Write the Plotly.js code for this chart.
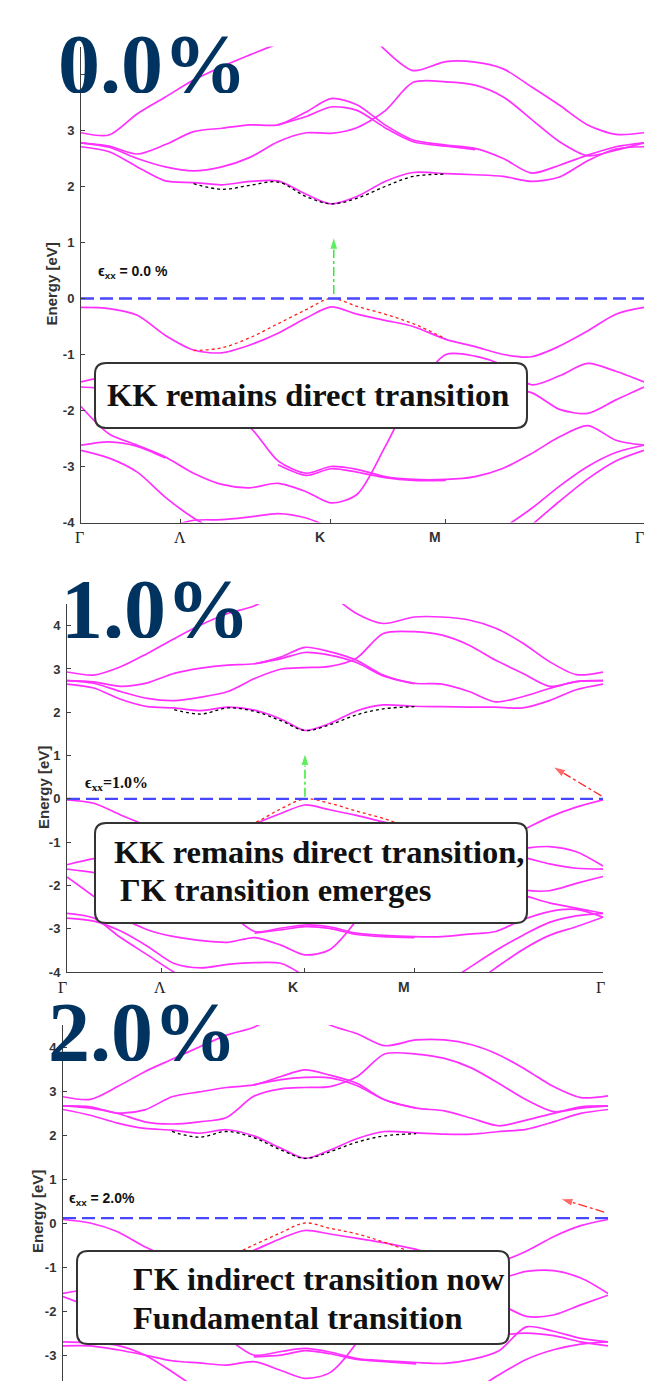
<!DOCTYPE html>
<html><head><meta charset="utf-8">
<script src="https://cdn.plot.ly/plotly-3.0.1.min.js"></script>
<style>html,body{margin:0;padding:0;background:#fff;} #chart{width:645px;height:1381px;}</style>
</head><body><div id="chart"></div>
<script>
const _ = null;
// k-path coordinate (fraction of path Γ→Λ→K→M→Γ)
const kGrid = [0,0.05,0.1,0.15,0.2,0.25,0.3,0.35,0.4,0.444,0.49,0.54,0.59,0.648,0.7,0.75,0.8,0.85,0.9,0.95,1];
const kTickVals = [0.177, 0.444, 0.648, 1];
const kTickText = ['Γ','Λ','K','M','Γ'];
const panelTitles = ['0.0%','1.0%','2.0%'];
const strainLabels = ['ϵ<sub>xx</sub> = 0.0 %','ϵ<sub>xx</sub>=1.0%','ϵ<sub>xx</sub> = 2.0%'];
const boxTexts = [['KK remains direct transition'],['KK remains direct transition,','ΓK transition emerges'],['ΓK indirect transition now','Fundamental transition']];
const fermiLevels = [0, 0, 0.11];

// ---------- Panel 1 (0.0 %) ----------
const p1C1 = [2.71,2.62,2.35,2.10,2.07,2.03,2.09,2.10,1.86,1.69,1.82,2.09,2.25,2.23,2.21,2.18,2.09,2.17,2.46,2.67,2.71];
const p1A  = [2.96,2.92,3.30,3.60,3.90,4.14,4.35,4.55,_,_,_,_,_,_,_,_,_,_,_,_,_];
const p1B  = [_,_,_,_,_,_,_,_,_,_,5.00,4.44,4.07,4.23,4.22,4.10,3.78,3.45,3.10,2.93,2.96];
const p1C  = [2.78,2.70,2.50,2.35,2.28,2.35,2.52,2.80,2.96,2.95,3.05,3.35,3.86,3.87,3.81,3.60,3.20,2.80,2.55,2.65,2.78];
const p1F  = [2.78,2.72,2.58,2.75,2.98,3.04,3.10,3.10,3.33,3.57,3.46,3.10,2.83,2.74,2.68,2.50,2.24,2.38,2.56,2.71,2.78];
const p1Fb = [_,_,_,_,_,_,_,3.10,3.25,3.42,3.36,3.05,2.80,2.72,2.66,_,_,_,_,_,_];
const p1Dot= [_,_,_,_,2.05,1.95,2.02,2.08,1.82,1.69,1.79,2.00,2.18,2.22,_,_,_,_,_,_,_];
const p1V1 = [-0.16,-0.18,-0.30,-0.66,-0.92,-0.97,-0.83,-0.62,-0.35,-0.15,-0.28,-0.39,-0.50,-0.73,-0.86,-1.00,-1.04,-0.85,-0.58,-0.28,-0.16];
const p1Red= [_,_,_,_,-0.93,-0.88,-0.70,-0.45,-0.20,0.00,-0.14,-0.28,-0.45,-0.72,_,_,_,_,_,_,_];
const p1V2 = [-1.49,-1.40,-1.50,-1.70,-1.90,-2.05,-2.30,-2.90,-3.12,-3.00,-3.05,-3.18,-3.23,-3.23,-3.18,-3.03,-2.77,-2.47,-2.27,-2.53,-2.62];
const p1V2b= [_,_,_,_,_,_,_,-2.97,-3.16,-3.04,-3.10,-3.20,-3.25,-3.25,_,_,_,_,_,_,_];
const p1V3 = [-1.58,-1.62,-1.75,-1.90,-2.00,-2.05,-2.10,-2.10,-2.10,-2.10,-2.00,-1.90,-1.80,-1.70,-1.65,-1.62,-1.68,-1.98,-2.05,-1.81,-1.58];
const p1V4 = [-1.93,-2.42,-2.62,-2.83,-3.12,-3.32,-3.38,-3.30,-3.45,-3.65,-3.50,-2.65,-1.70,-1.00,-1.03,-1.20,-1.54,-1.38,-1.16,-1.30,-1.49];
const p1V5 = [-2.62,-2.56,-2.64,-2.85,_,_,_,_,_,_,_,_,_,_,_,_,_,_,_,_,_];
const p1V6 = [-2.71,-2.85,-3.10,-3.55,-3.92,-4.20,_,_,_,_,_,_,_,_,_,_,_,_,_,_,_];
const p1V7 = [_,_,_,-4.10,-3.96,-3.95,-3.90,-3.84,-3.92,-4.10,_,_,_,_,_,_,_,_,_,_,_];
const p1V8 = [_,_,_,_,_,_,_,_,_,_,_,_,_,_,_,-4.10,-3.75,-3.35,-3.00,-2.75,-2.62];
const p1V9 = [_,_,_,_,_,_,_,_,_,_,_,_,_,_,_,_,-4.05,-3.62,-3.22,-2.90,-2.71];

// ---------- Panel 2 (1.0 %) ----------
const p2C1 = [2.65,2.56,2.30,2.13,2.10,2.04,2.12,2.05,1.84,1.58,1.74,2.03,2.17,2.14,2.13,2.12,2.12,2.10,2.27,2.52,2.65];
const p2A  = [2.93,2.86,3.05,3.36,3.70,4.02,4.28,4.46,4.85,_,_,_,_,_,_,_,_,_,_,_,_];
const p2B  = [_,_,_,_,_,_,_,_,_,_,4.75,4.28,4.05,4.20,4.20,4.13,3.94,3.60,3.17,2.87,2.93];
const p2C  = [2.73,2.67,2.48,2.32,2.27,2.35,2.48,2.78,3.00,3.03,3.06,3.25,3.82,3.86,3.78,3.55,3.20,2.90,2.60,2.71,2.73];
const p2F  = [2.73,2.70,2.60,2.68,2.90,3.02,3.09,3.12,3.28,3.50,3.40,3.20,2.86,2.67,2.65,2.48,2.24,2.36,2.55,2.71,2.73];
const p2Fb = [_,_,_,_,_,_,_,3.12,3.24,3.38,3.32,3.15,2.84,2.66,_,_,_,_,_,_,_];
const p2Dot= [_,_,_,_,2.06,1.96,2.10,2.02,1.80,1.58,1.71,1.94,2.08,2.13,_,_,_,_,_,_,_];
const p2V1 = [-0.02,-0.10,-0.37,-0.62,-0.85,-0.95,-0.88,-0.58,-0.33,-0.14,-0.25,-0.38,-0.53,-0.70,-0.85,-0.98,-1.00,-0.72,-0.42,-0.19,-0.02];
const p2Red= [_,_,_,_,-0.93,-0.88,-0.72,-0.55,-0.22,0.00,-0.10,-0.28,-0.45,-0.70,_,_,_,_,_,_,_];
const p2V2 = [-1.52,-1.38,-1.30,-1.40,-1.70,-2.10,-2.60,-3.06,-2.98,-2.91,-2.95,-3.10,-3.15,-3.18,-3.18,-3.12,-3.06,-2.79,-2.60,-2.55,-2.73];
const p2V2b= [_,_,_,_,_,_,_,-3.10,-3.02,-2.95,-2.99,-3.13,-3.18,-3.20,_,_,_,_,_,_,_];
const p2V3 = [-1.62,-1.70,-1.80,-1.90,-2.00,-2.10,-2.20,-2.30,-2.30,-2.30,-2.20,-2.00,-1.80,-1.60,-1.45,-1.35,-1.30,-1.35,-1.50,-1.60,-1.62];
const p2V4 = [-1.80,-2.25,-2.72,-3.02,-3.18,-3.27,-3.31,-3.20,-3.38,-3.60,-3.48,-2.80,-1.80,-1.10,-1.05,-1.10,-1.18,-1.14,-1.10,-1.22,-1.55];
const p2V5 = [-2.64,-2.75,-3.20,-3.60,-4.00,-4.30,_,_,_,_,_,_,_,_,_,_,_,_,_,_,_];
const p2V6 = [-2.75,-2.82,-3.05,-3.40,-3.80,-3.90,-3.82,-3.78,-3.80,-4.10,_,_,_,_,_,_,_,_,_,_,_];
const p2V7 = [_,_,_,_,_,_,_,_,_,_,_,_,_,_,-4.30,-3.90,-3.50,-3.15,-2.85,-2.70,-2.64];
const p2V8 = [_,_,_,_,_,_,_,_,_,_,_,_,_,_,_,-4.35,-3.90,-3.48,-3.15,-2.95,-2.73];
const p2V9 = [_,_,_,_,_,_,_,_,_,_,_,_,_,_,_,_,-2.10,-2.22,-2.40,-2.52,-2.64];
const p2V10= [_,_,_,_,_,_,_,_,_,_,_,_,_,_,_,_,-1.95,-2.10,-2.12,-1.95,-1.79];

// ---------- Panel 3 (2.0 %) ----------
const p3C1 = [2.58,2.45,2.27,2.15,2.11,2.04,2.12,1.98,1.70,1.47,1.66,1.92,2.08,2.05,2.02,2.02,2.08,2.13,2.30,2.49,2.58];
const p3A  = [2.87,2.81,3.10,3.44,3.72,4.00,4.27,4.45,4.80,_,_,_,_,_,_,_,_,_,_,_,_];
const p3B  = [_,_,_,_,_,_,_,_,_,4.85,4.50,4.30,4.03,4.16,4.16,4.05,3.82,3.48,3.10,2.85,2.89];
const p3C  = [2.66,2.61,2.49,2.30,2.25,2.30,2.40,2.88,3.05,3.08,3.10,3.33,3.84,3.84,3.74,3.52,3.17,2.80,2.53,2.61,2.66];
const p3F  = [2.66,2.64,2.50,2.57,2.87,2.98,3.08,3.14,3.33,3.48,3.36,3.17,2.80,2.61,2.55,2.38,2.21,2.34,2.49,2.64,2.66];
const p3Fb = [_,_,_,_,_,_,_,3.14,3.26,3.31,3.30,3.12,2.80,2.61,_,_,_,_,_,_,_];
const p3Dot= [_,_,_,_,2.08,1.95,2.08,1.94,1.66,1.47,1.62,1.84,1.98,2.03,_,_,_,_,_,_,_];
const p3V1 = [0.08,0.00,-0.20,-0.54,-0.80,-0.95,-0.85,-0.62,-0.35,-0.17,-0.25,-0.35,-0.45,-0.60,-0.80,-0.92,-0.88,-0.64,-0.31,-0.06,0.08];
const p3Red= [_,_,_,_,_,_,-0.80,-0.50,-0.22,0.00,-0.12,-0.25,-0.44,-0.70,_,_,_,_,_,_,_];
const p3V2 = [-1.60,-1.50,-1.45,-1.50,-1.70,-2.10,-2.60,-3.00,-2.92,-2.85,-2.93,-3.08,-3.13,-3.17,-3.19,-3.10,-2.90,-2.36,-2.46,-2.62,-2.70];
const p3V2b= [_,_,_,_,_,_,_,-3.04,-3.00,-2.90,-2.97,-3.10,-3.15,-3.20,_,_,_,_,_,_,_];
const p3V3 = [-1.67,-1.90,-2.10,-2.20,-2.30,-2.30,-2.30,-2.20,-2.20,-2.20,-2.20,-2.10,-2.00,-1.90,-1.85,-1.80,-1.85,-2.12,-2.09,-1.86,-1.64];
const p3V4 = [-2.79,-2.79,-2.88,-3.00,-3.13,-3.18,-3.23,-3.15,-3.35,-3.53,-3.40,-2.70,-1.60,-1.05,-1.02,-1.10,-1.25,-1.10,-1.08,-1.25,-1.60];
const p3V5 = [-2.70,-2.72,-2.78,-3.00,-3.38,-3.80,_,_,_,_,_,_,_,_,_,_,_,_,_,_,_];
const p3V6 = [_,_,_,_,_,_,_,_,_,_,_,_,_,_,_,_,-2.55,-2.50,-2.56,-2.70,-2.79];
const p3V7 = [_,_,_,_,_,_,_,_,_,_,_,_,_,_,_,-3.85,-3.45,-3.10,-2.88,-2.75,-2.70];

// arrows (k, energy) start -> tip
const greenArrowK = [[0.449,0.449],[0.444,0.444]];
const greenArrowE = [[0.08,1.10],[0.05,1.06]];
const redArrowK = [[0.997,0.907],[0.993,0.913]];
const redArrowE = [[0.07,0.74],[0.25,0.55]];

const W = 645, H = 1381;
const px = v => v / W, py = v => 1 - v / H;

const panels = [
  {xa:'x', ya:'y', bands:[p1C1,p1A,p1B,p1C,p1F,p1Fb,p1V1,p1V2,p1V2b,p1V3,p1V4,p1V5,p1V6,p1V7,p1V8,p1V9], dot:p1Dot, red:p1Red},
  {xa:'x2', ya:'y2', bands:[p2C1,p2A,p2B,p2C,p2F,p2Fb,p2V1,p2V2,p2V2b,p2V3,p2V4,p2V5,p2V6,p2V7,p2V8,p2V9,p2V10], dot:p2Dot, red:p2Red},
  {xa:'x3', ya:'y3', bands:[p3C1,p3A,p3B,p3C,p3F,p3Fb,p3V1,p3V2,p3V2b,p3V3,p3V4,p3V5,p3V6,p3V7], dot:p3Dot, red:p3Red}
];

const traces = [];
const band = {color:'#ff30ff', width:1.7, shape:'spline', smoothing:0.8};
panels.forEach((p, i) => {
  p.bands.forEach(b => traces.push({x:kGrid, y:b, xaxis:p.xa, yaxis:p.ya, mode:'lines', line:band, connectgaps:false, hoverinfo:'skip'}));
  traces.push({x:kGrid, y:p.dot, xaxis:p.xa, yaxis:p.ya, mode:'lines', line:{color:'#000', width:1.3, dash:'dot', shape:'spline'}, hoverinfo:'skip'});
  traces.push({x:kGrid, y:p.red, xaxis:p.xa, yaxis:p.ya, mode:'lines', line:{color:'#ff2020', width:1.3, dash:'dot', shape:'spline'}, hoverinfo:'skip'});
  traces.push({x:[0,1], y:[fermiLevels[i], fermiLevels[i]], xaxis:p.xa, yaxis:p.ya, mode:'lines', line:{color:'#4747ff', width:2.3, dash:'13px,6px'}, hoverinfo:'skip'});
});
function arrow(xa, ya, ks, es, color) {
  traces.push({x:ks, y:es, xaxis:xa, yaxis:ya, mode:'lines+markers', cliponaxis:false,
    line:{color:color, width:1.3, dash:'dashdot'},
    marker:{symbol:'arrow', angleref:'previous', size:[0,13], color:color}, hoverinfo:'skip'});
}
arrow('x','y', greenArrowK[0], greenArrowE[0], '#19e619');
arrow('x2','y2', greenArrowK[1], greenArrowE[1], '#19e619');
arrow('x2','y2', redArrowK[0], redArrowE[0], '#ff2a2a');
arrow('x3','y3', redArrowK[1], redArrowE[1], '#ff2a2a');

const tickFont = {family:'Liberation Sans, Arial, sans-serif', size:13, color:'#333', weight:'bold'};
function xax(d0, d1, anchor, show) {
  return {domain:[px(d0), px(d1)], anchor:anchor, range:[0,1], showgrid:false, zeroline:false,
    showline:show, linecolor:'#404040', linewidth:1, ticks: show ? 'inside' : '', ticklen:4, tickcolor:'#404040',
    tickvals:kTickVals, showticklabels:false, fixedrange:true};
}
function yax(top, bottom, r0, anchor, hideTop) {
  const vals = [-4,-3,-2,-1,0,1,2,3,4].filter(v => v >= r0 - 1e-9);
  return {domain:[py(bottom), py(top)], anchor:anchor, range:[r0, 4.5], showgrid:false, zeroline:false,
    showline:true, linecolor:'#404040', linewidth:1, ticks:'inside', ticklen:4, tickcolor:'#404040',
    tickvals:vals, ticktext:vals.map(v => (hideTop && v === 4) ? ' ' : String(v)), tickfont:tickFont, ticklabelstandoff:3, fixedrange:true};
}

const annotations = [];
const shapes = [];
// big strain labels
[[56,64],[59,609],[46,1032]].forEach((pos, i) => annotations.push({xref:'paper', yref:'paper', x:px(pos[0]), y:py(pos[1]),
  xanchor:'left', yanchor:'middle', valign:'middle', showarrow:false, text:panelTitles[i], height:58,
  font:{family:'Liberation Serif, Times New Roman, serif', size:84, color:'#00335f', weight:'bold'}}));
// y axis titles
[[51,284.5],[43,788],[37,1212]].forEach(pos => annotations.push({xref:'paper', yref:'paper', x:px(pos[0]), y:py(pos[1]),
  xanchor:'center', yanchor:'middle', showarrow:false, text:'Energy [eV]', textangle:-90,
  font:{family:'Liberation Sans, Arial, sans-serif', size:15, color:'#333', weight:'bold'}}));
// x tick labels
const xLabelPos = [[[79,180,320,435,639],537],[[62,160,293,404,600],987]];
xLabelPos.forEach(row => row[0].forEach((xv, j) => {
  const serif = (kTickText[j] === 'Γ' || kTickText[j] === 'Λ');
  annotations.push({xref:'paper', yref:'paper', x:px(xv), y:py(row[1]), xanchor:'center', yanchor:'middle', showarrow:false,
    text:kTickText[j], font: serif ? {family:'Liberation Serif, serif', size:16, color:'#222'} : {family:'Liberation Sans, Arial, sans-serif', size:14, color:'#333', weight:'bold'}});
}));
// strain small labels
const strainPos = [[96,272,'Liberation Sans, Arial, sans-serif',14],[83,783,'Liberation Serif, serif',16],[67,1199,'Liberation Sans, Arial, sans-serif',14]];
strainPos.forEach((s, i) => annotations.push({xref:'paper', yref:'paper', x:px(s[0]), y:py(s[1]), xanchor:'left', yanchor:'middle', showarrow:false,
  text:strainLabels[i], font:{family:s[2], size:s[3], color:'#111', weight:'bold'}}));
// rounded boxes
function roundRect(x0, y0, x1, y1, r) {
  const P = (x, y) => px(x).toFixed(5) + ',' + py(y).toFixed(5);
  return 'M' + P(x0 + r, y0) + ' L' + P(x1 - r, y0) + ' Q' + P(x1, y0) + ' ' + P(x1, y0 + r) +
    ' L' + P(x1, y1 - r) + ' Q' + P(x1, y1) + ' ' + P(x1 - r, y1) + ' L' + P(x0 + r, y1) +
    ' Q' + P(x0, y1) + ' ' + P(x0, y1 - r) + ' L' + P(x0, y0 + r) + ' Q' + P(x0, y0) + ' ' + P(x0 + r, y0) + ' Z';
}
const boxRects = [[95,363,527,428],[95,823,527,923],[77,1251,509,1344]];
boxRects.forEach(b => shapes.push({type:'path', xref:'paper', yref:'paper', path:roundRect(b[0],b[1],b[2],b[3],11),
  fillcolor:'#fff', line:{color:'#333', width:2}, layer:'above'}));
const boxTextPos = [[[105,395]],[[112,852],[118,890]],[[131,1279],[131,1318]]];
boxTextPos.forEach((rows, i) => rows.forEach((pos, j) => annotations.push({xref:'paper', yref:'paper', x:px(pos[0]), y:py(pos[1]),
  xanchor:'left', yanchor:'middle', showarrow:false, text:boxTexts[i][j],
  font:{family:'Liberation Serif, Times New Roman, serif', size:32.5, color:'#111', weight:'bold'}})));

const layout = {
  width:W, height:H, margin:{l:0,r:0,t:0,b:0}, paper_bgcolor:'#fff', plot_bgcolor:'rgba(0,0,0,0)', showlegend:false,
  xaxis: xax(81, 644, 'y', true), yaxis: yax(46.5, 522.5, -4, 'x', true),
  xaxis2: xax(67, 603, 'y2', true), yaxis2: yax(604, 972.2, -4, 'x2', false),
  xaxis3: xax(63, 608, 'y3', false), yaxis3: yax(1025, 1381, -3.59, 'x3', false),
  annotations:annotations, shapes:shapes
};
Plotly.newPlot('chart', traces, layout, {staticPlot:true, displayModeBar:false});
</script></body></html>
